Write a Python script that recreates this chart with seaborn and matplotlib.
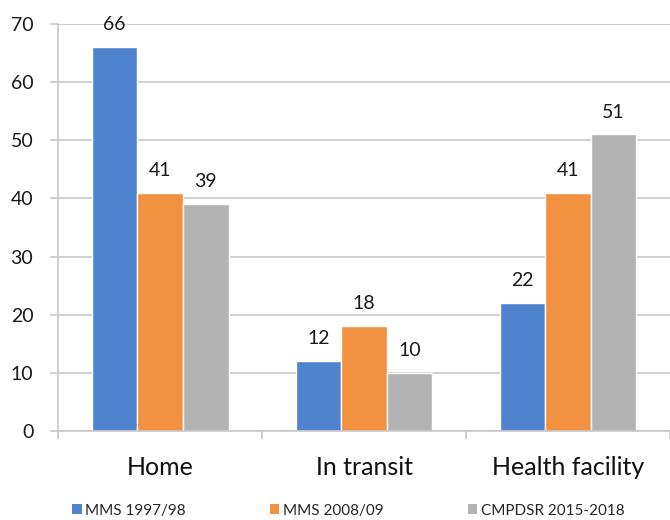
import pandas as pd
import matplotlib.pyplot as plt
import seaborn as sns
from matplotlib.patches import Patch

# Values
places = ['Home', 'In transit', 'Health facility']
series = ['MMS 1997/98', 'MMS 2008/09', 'CMPDSR 2015-2018']
mms_1997 = [66, 12, 22]
mms_2008 = [41, 18, 41]
cmpdsr_2015 = [39, 10, 51]
colors = ['#5083CE', '#F29140', '#B3B3B3']

df = pd.DataFrame({
    'place': places * 3,
    'series': [series[0]] * 3 + [series[1]] * 3 + [series[2]] * 3,
    'value': mms_1997 + mms_2008 + cmpdsr_2015,
})

sns.set_style('white')
plt.rcParams['font.family'] = ['Lato', 'DejaVu Sans']

fig = plt.figure(figsize=(6.7, 5.2), dpi=100)
ax = fig.add_axes([0.087, 0.171, 0.913, 0.783])

sns.barplot(data=df, x='place', y='value', hue='series', palette=colors,
            width=0.67, gap=0, saturation=1, ax=ax, legend=False)

for cont in ax.containers:
    ax.bar_label(cont, padding=10, fontsize=14, color='#1a1a1a')

ax.set_ylim(0, 70)
ax.set_xlim(-0.5, 2.5)
ax.set_yticks(range(0, 71, 10))
ax.yaxis.grid(True, color='#C8C8C8', linewidth=1.2)
ax.set_axisbelow(True)
ax.set_xlabel('')
ax.set_ylabel('')

for s in ['top', 'right']:
    ax.spines[s].set_visible(False)
ax.spines['left'].set_color('#C8C8C8')
ax.spines['bottom'].set_color('#C8C8C8')
ax.spines['left'].set_linewidth(1.2)
ax.spines['bottom'].set_linewidth(1.2)

ax.tick_params(axis='y', length=6, color='#C8C8C8', width=1.2, pad=12,
               labelsize=14, labelcolor='#1a1a1a', left=True)
ax.tick_params(axis='x', which='major', length=0, pad=18, labelsize=18,
               labelcolor='#111111')
ax.set_xticks([-0.5, 0.5, 1.5, 2.5], minor=True)
ax.tick_params(axis='x', which='minor', length=6, color='#C8C8C8', width=1.2,
               bottom=True)

handles = [Patch(facecolor=c, edgecolor='none') for c in colors]
fig.legend(handles, series, loc='center', bbox_to_anchor=(0.52, 0.018), ncol=3,
           frameon=False, fontsize=11, handlelength=0.6, handleheight=0.6,
           handletextpad=0.25, columnspacing=5.5, borderpad=0)

fig.savefig('out.png', dpi=100)
